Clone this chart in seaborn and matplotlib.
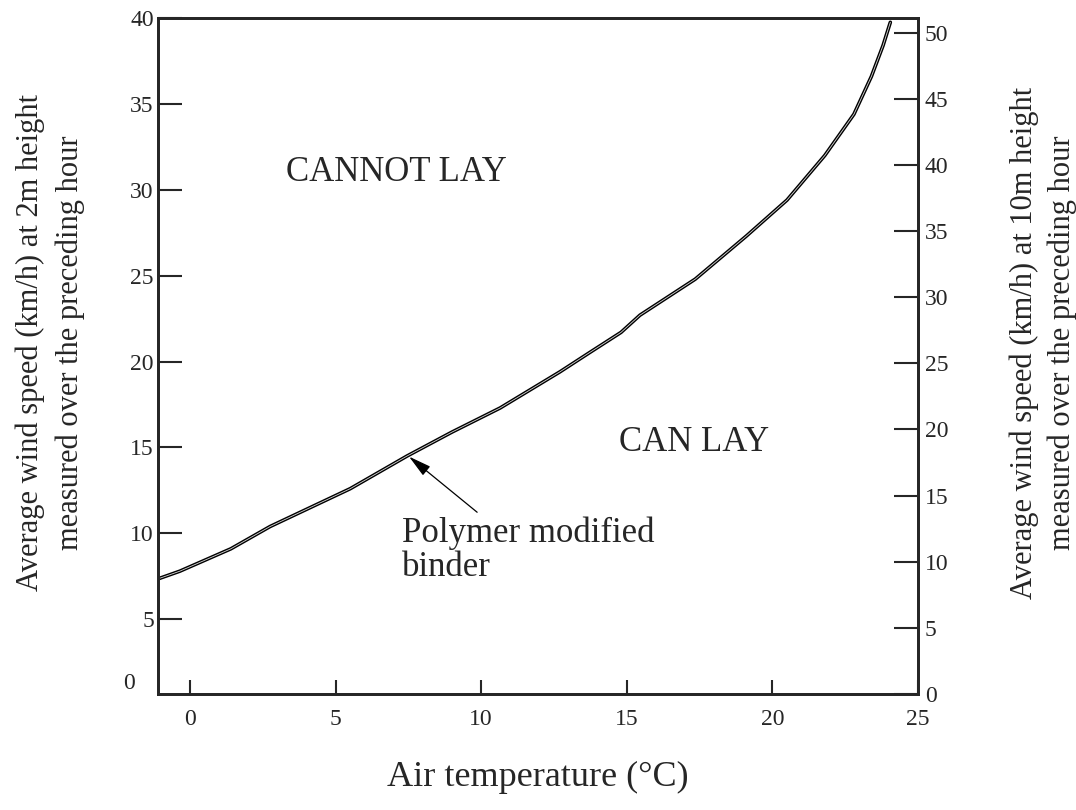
import matplotlib
matplotlib.use("Agg")
import matplotlib.pyplot as plt
import seaborn as sns

# curve (left axis: wind speed at 2m)
air_temp = [-1.1, -0.35, 1.4, 2.75, 4.0, 5.5, 7.45, 9.0, 10.65, 12.7, 13.7,
            14.8, 15.45, 17.35, 19.1, 20.5, 21.8, 22.8, 23.4, 23.8, 24.05]
wind_2m = [7.35, 7.8, 9.1, 10.4, 11.4, 12.6, 14.5, 15.9, 17.3, 19.4, 20.5,
           21.7, 22.7, 24.8, 27.3, 29.4, 32.0, 34.4, 36.6, 38.4, 39.75]

x_ticks = [0, 5, 10, 15, 20, 25]
left_ticks = [5, 10, 15, 20, 25, 30, 35, 40]
right_ticks = [0, 5, 10, 15, 20, 25, 30, 35, 40, 45, 50]

sns.set_style("ticks")
plt.rcParams["font.family"] = ["Liberation Serif", "DejaVu Serif"]

fig = plt.figure(figsize=(10.76, 8.1), dpi=100)
ax = fig.add_axes([158 / 1076, 1 - 694 / 810, 760 / 1076, 676 / 810])

sns.lineplot(x=air_temp, y=wind_2m, sort=False, estimator=None, ax=ax,
             color="black", lw=2.6)
sns.lineplot(x=air_temp, y=wind_2m, sort=False, estimator=None, ax=ax,
             color="#d8d8d8", lw=0.6)

ax.set_xlim(-1.1, 25)
ax.set_ylim(0.65, 40)
ax.set_xticks(x_ticks)
ax.set_yticks(left_ticks)
ax.tick_params(axis="y", direction="in", length=17, width=1.5, labelsize=17, pad=3)
ax.tick_params(axis="x", direction="in", length=10, width=1.5, labelsize=17, pad=11)
ax.text(-0.03, 0.0, "0", transform=ax.transAxes, ha="right", va="bottom", fontsize=17)
for s in ax.spines.values():
    s.set_linewidth(2)
    s.set_visible(True)

ax2 = ax.twinx()
ax2.set_ylim(0, 51.1)
ax2.set_yticks(right_ticks)
ax2.tick_params(axis="y", direction="in", length=17, width=1.5, labelsize=17, pad=5)
for s in ax2.spines.values():
    s.set_linewidth(2)

ax.set_xlabel("Air temperature (°C)", fontsize=26)
ax.xaxis.set_label_coords(0.5, -0.124)
ax.xaxis.label.set_va("center")

ax.set_ylabel("Average wind speed (km/h) at 2m height\nmeasured over the preceding hour",
              fontsize=22, linespacing=1.45)
ax.yaxis.set_label_coords(-0.142, 0.52)
ax.yaxis.label.set_va("center")

ax2.set_ylabel("Average wind speed (km/h) at 10m height\nmeasured over the preceding hour",
               fontsize=22, linespacing=1.4)
ax2.yaxis.set_label_coords(1.165, 0.52)
ax2.yaxis.label.set_va("center")

ax.text(7.1, 31.0, "CANNOT LAY", fontsize=25, ha="center", va="center")
ax.text(17.3, 15.3, "CAN LAY", fontsize=25, ha="center", va="center")

ax.annotate("", xy=(7.52, 14.47), xytext=(9.86, 11.23),
            arrowprops=dict(arrowstyle="-|>,head_length=1.4,head_width=0.35",
                            lw=0.9, color="black", shrinkA=0, shrinkB=0))
ax.text(7.28, 11.0, "Polymer modified\nbinder", fontsize=25, ha="left", va="top",
        linespacing=1.05)

fig.savefig("out.png", dpi=100)
